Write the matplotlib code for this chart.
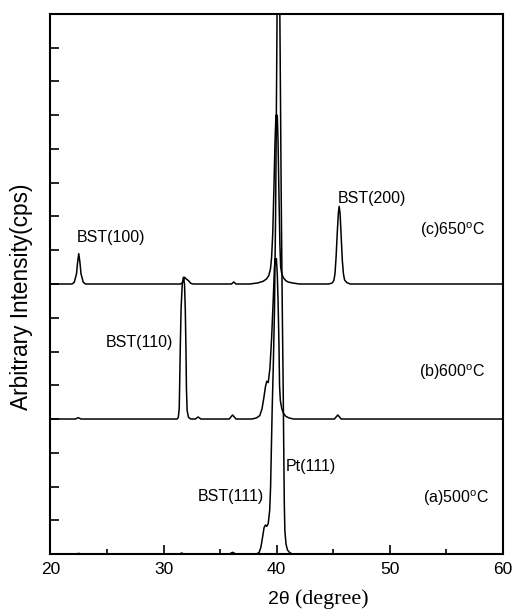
import matplotlib
matplotlib.use("Agg")
import matplotlib.pyplot as plt
import numpy as np
from matplotlib.ticker import MultipleLocator

plt.rcParams['font.family'] = ['Liberation Sans', 'DejaVu Sans']
plt.rcParams['mathtext.fontset'] = 'custom'
plt.rcParams['mathtext.rm'] = 'Liberation Sans'

# ---- data (2theta in degrees, intensity in arbitrary units, traced) ----
theta_a = [20, 22.3, 22.5, 22.7, 31.4, 31.6, 31.8, 35.8, 36.1, 36.4, 38.2, 38.45, 38.6, 38.75,
           38.88, 39.0, 39.12, 39.25, 39.38, 39.46, 39.52, 39.6, 39.7, 39.8, 39.9, 40.0, 40.08,
           40.15, 40.22, 40.3, 40.4, 40.5, 40.57, 40.62, 40.67, 40.72, 40.82, 40.95, 41.15, 41.4, 60]
int_a = [0, 0, 0.02, 0, 0, 0.03, 0, 0, 0.05, 0, 0, 0.05, 0.2, 0.5,
         0.78, 0.86, 0.82, 0.9, 1.3, 2.0, 3.0, 4.3, 5.6, 7.2, 10.0, 14.5, 18.5,
         20.0, 18.5, 15.0, 10.5, 7.0, 5.0, 3.2, 1.5, 0.7, 0.3, 0.12, 0.04, 0, 0]

theta_b = [20, 22.2, 22.45, 22.7, 31.2, 31.3, 31.38, 31.42, 31.48, 31.55, 31.65, 31.75, 31.85,
           31.92, 31.98, 32.02, 32.08, 32.2, 32.4, 32.8, 33.05, 33.3, 35.8, 36.1, 36.4,
           37.8, 38.2, 38.5, 38.7, 38.85, 39.0, 39.12, 39.25, 39.4, 39.55, 39.7, 39.8, 39.87,
           39.92, 39.97, 40.05, 40.12, 40.2, 40.25, 40.32, 40.45, 40.6, 40.8, 41.1, 41.5,
           45.1, 45.4, 45.7, 60]
int_b = [0, 0, 0.04, 0, 0, 0.05, 0.3, 1.0, 2.2, 3.3, 4.0, 4.2, 4.0,
         3.2, 2.0, 0.9, 0.25, 0.05, 0, 0, 0.06, 0, 0, 0.12, 0,
         0, 0.03, 0.1, 0.3, 0.6, 0.95, 1.12, 1.08, 1.5, 2.4, 3.6, 4.5, 4.75,
         4.6, 4.75, 4.3, 3.5, 2.2, 1.0, 0.55, 0.3, 0.17, 0.08, 0.03, 0,
         0, 0.12, 0, 0]

theta_c = [20, 21.9, 22.1, 22.3, 22.4, 22.5, 22.6, 22.7, 22.9, 23.1, 31.5, 31.7, 31.85, 32.0,
           32.2, 32.4, 32.6, 36.0, 36.2, 36.4, 37.6, 38.3, 38.8, 39.1, 39.3, 39.45, 39.55,
           39.65, 39.75, 39.85, 39.93, 39.99, 40.05, 40.12, 40.2, 40.28, 40.35, 40.45, 40.6,
           40.8, 41.0, 41.4, 42.0, 44.6, 44.9, 45.05, 45.15, 45.25, 45.35, 45.45, 45.52, 45.6,
           45.7, 45.8, 45.9, 46.0, 46.2, 46.5, 60]
int_c = [0, 0, 0.05, 0.3, 0.65, 0.9, 0.65, 0.3, 0.05, 0, 0, 0.05, 0.2, 0.15,
         0.1, 0.02, 0, 0, 0.06, 0, 0, 0.03, 0.08, 0.15, 0.25, 0.45, 0.8,
         1.5, 2.8, 4.2, 5.0, 4.8, 5.0, 4.2, 2.6, 1.2, 0.5, 0.3, 0.18,
         0.1, 0.06, 0.03, 0, 0, 0.03, 0.1, 0.3, 0.8, 1.5, 2.1, 2.3, 2.1,
         1.4, 0.7, 0.3, 0.12, 0.04, 0, 0]

offsets = [0, 4, 8]
x_ticks = [20, 30, 40, 50, 60]

labels = ["BST(100)", "BST(200)", r"(c)650$^{\rm o}$C", "BST(110)", r"(b)600$^{\rm o}$C",
          "Pt(111)", "BST(111)", r"(a)500$^{\rm o}$C"]
label_x = [22.35, 45.4, 52.7, 24.9, 52.6, 40.8, 33.05, 52.9]
label_y = [9.39, 10.52, 9.6, 6.28, 5.39, 2.58, 1.69, 1.66]

# ---- figure ----
fig = plt.figure(figsize=(5.13, 6.13), dpi=100)
ax = fig.add_axes([0.0984, 0.0962, 0.882, 0.881])

for th, it, off in zip([theta_a, theta_b, theta_c], [int_a, int_b, int_c], offsets):
    ax.plot(th, np.array(it) + off, color='black', lw=1.1, solid_joinstyle='round')

ax.set_xlim(20, 60)
ax.set_ylim(0, 16)
ax.set_xticks(x_ticks)
ax.xaxis.set_minor_locator(MultipleLocator(5))
ax.yaxis.set_major_locator(MultipleLocator(1))
ax.tick_params(axis='x', which='major', direction='in', length=6.5, width=1.2,
               labelsize=12.5, pad=6, top=False)
ax.tick_params(axis='x', which='minor', direction='in', length=3.6, width=1.2, top=False)
ax.tick_params(axis='y', which='major', direction='in', length=6.5, width=1.2,
               labelleft=False, right=False)
for s in ax.spines.values():
    s.set_linewidth(1.5)

for t, x, y in zip(labels, label_x, label_y):
    ax.text(x, y, t, fontsize=11.5, ha='left', va='center')

fig.text(0.041, 0.516, "Arbitrary Intensity(cps)", rotation=90, fontsize=16.3,
         ha='center', va='center')
fig.text(268 / 513, 1 - 604 / 613, "2\u03b8", fontsize=14, ha='left', va='baseline')
fig.text(295 / 513, 1 - 604 / 613, "(degree)", fontsize=15.8, ha='left', va='baseline',
         family=['Liberation Serif', 'DejaVu Serif'])

fig.savefig("out.png", dpi=100)
